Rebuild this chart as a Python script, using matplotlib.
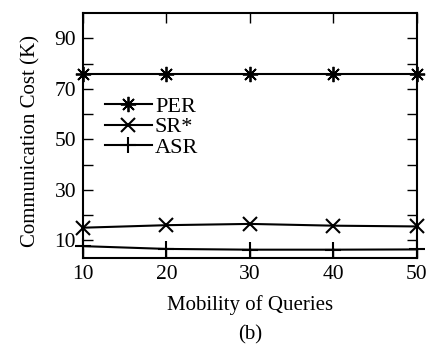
import matplotlib
matplotlib.use("Agg")

import matplotlib.pyplot as plt
from matplotlib.ticker import MultipleLocator, FixedLocator

mobility = [10, 20, 30, 40, 50]
per_cost = [75.9, 75.9, 75.9, 75.9, 75.9]
sr_cost = [15.0, 16.0, 16.5, 15.8, 15.5]
asr_cost = [7.7, 6.6, 6.3, 6.3, 6.4]

plt.rcParams["font.family"] = ["Liberation Serif", "DejaVu Serif"]

fig = plt.figure(figsize=(4.38, 3.49), dpi=100)
ax = fig.add_axes([0.1895, 0.2607, 0.7625, 0.7021])

star = (8, 2, 0)
ax.plot(mobility, per_cost, color="black", lw=1.5, marker=star,
        markersize=11, markeredgewidth=1.3, label="PER", clip_on=False)
ax.plot(mobility, sr_cost, color="black", lw=1.5, marker="x",
        markersize=10, markeredgewidth=1.5, label="SR*", clip_on=False)
ax.plot(mobility, asr_cost, color="black", lw=1.5, marker="+",
        markersize=11, markeredgewidth=1.5, label="ASR", clip_on=False)

ax.set_xlim(10, 50)
ax.set_ylim(3, 100)
ax.xaxis.set_major_locator(MultipleLocator(10))
ax.yaxis.set_major_locator(FixedLocator([10, 30, 50, 70, 90]))
ax.yaxis.set_minor_locator(FixedLocator([20, 40, 60, 80]))

ax.tick_params(which="both", direction="in", top=True, right=True,
               length=7, width=1.0, labelsize=15.5)
ax.tick_params(axis="x", pad=5)
ax.tick_params(axis="y", pad=5)
for sp in ax.spines.values():
    sp.set_linewidth(1.5)

ax.set_ylabel("Communication Cost (K)", fontsize=15)
ax.yaxis.set_label_coords(-0.128, 0.478)
ax.set_xlabel("Mobility of Queries", fontsize=15, labelpad=8)
fig.text(0.571, 0.04, "(b)", ha="center", va="center", fontsize=15)

ax.legend(loc="upper left", bbox_to_anchor=(0.039, 0.696), frameon=False,
          fontsize=16, handlelength=2.1, handletextpad=0.15,
          labelspacing=0.0, borderaxespad=0)

fig.savefig("out.png", dpi=100)
